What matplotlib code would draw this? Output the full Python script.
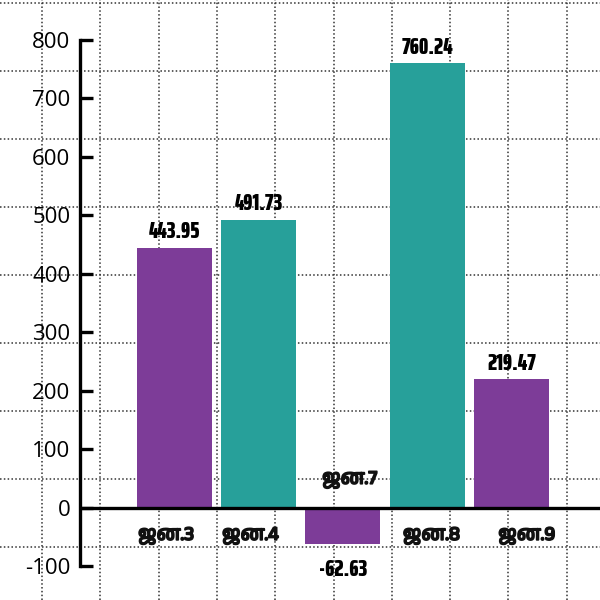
import matplotlib
matplotlib.use('Agg')
import matplotlib.pyplot as plt
import matplotlib.patheffects as pe
from matplotlib import font_manager as fm
import numpy as np

# data
days = ['ஜன.3', 'ஜன.4', 'ஜன.7', 'ஜன.8', 'ஜன.9']
values = [443.95, 491.73, -62.63, 760.24, 219.47]
colors = ['#7d3c98', '#27a09a', '#7d3c98', '#27a09a', '#7d3c98']
yticks = [-100, 0, 100, 200, 300, 400, 500, 600, 700, 800]

plt.rcParams['axes.unicode_minus'] = False

# try to find a font with tamil glyphs
tamil = sorted({f.name for f in fm.fontManager.ttflist if 'Tamil' in f.name})
label_family = tamil + ['DejaVu Sans']


def wnum(w):
    if isinstance(w, (int, float)):
        return w
    return {'bold': 700, 'heavy': 800, 'extra bold': 800, 'black': 900,
            'semibold': 600, 'demibold': 600}.get(str(w).lower(), 400)


def stretch_rank(f):
    s = str(f.stretch)
    if 'ExtraCondensed' in f.name or s in ('extra-condensed', 'ultra-condensed'):
        return 0
    if 'Condensed' in f.name or 'Narrow' in f.name or s == 'condensed':
        return 1
    if s == 'semi-condensed':
        return 2
    return 9


# condensed heavy font for the numbers
narrow = [f for f in fm.fontManager.ttflist
          if stretch_rank(f) < 9 and wnum(f.weight) >= 700 and f.style == 'normal']
narrow.sort(key=lambda f: (stretch_rank(f), -wnum(f.weight)))
if narrow:
    num_font = fm.FontProperties(fname=narrow[0].fname, size=17)
else:
    num_font = fm.FontProperties(family='DejaVu Sans', weight='bold', size=13)

fig = plt.figure(figsize=(6, 6), dpi=100)

# dotted background grid (paper-like, independent of the data axes)
bg = fig.add_axes([0, 0, 1, 1], zorder=0)
bg.set_xlim(0, 600)
bg.set_ylim(600, 0)
bg.axis('off')
for gx in np.arange(42, 600, 58.3):
    bg.axvline(gx, color='#333333', ls=(0, (1, 1.5)), lw=1.1)
for gy in np.arange(3, 600, 68):
    bg.axhline(gy, color='#333333', ls=(0, (1, 1.5)), lw=1.1)

ax = fig.add_axes([80/600, 34/600, 520/600, 526/600], zorder=1)
ax.patch.set_visible(False)

x = np.arange(len(values))
ax.bar(x, values, width=0.89, color=colors, zorder=2)
ax.axhline(0, color='black', lw=2.4, zorder=3)

ax.set_xlim(-1.12, 5.05)
ax.set_ylim(-100, 800)
ax.set_yticks(yticks)
ax.set_xticks([])
for s in ['top', 'right', 'bottom']:
    ax.spines[s].set_visible(False)
ax.spines['left'].set_linewidth(2.4)
ax.tick_params(axis='y', direction='in', length=9, width=2.4, pad=7,
               labelsize=16)
for t in ax.get_yticklabels():
    t.set_family(['Open Sans', 'DejaVu Sans'])

# value labels
for xi, v in zip(x, values):
    if v >= 0:
        ax.text(xi, v + 8, f'{v:.2f}', ha='center', va='bottom',
                fontproperties=num_font)
    else:
        ax.text(xi, v - 26, f'{v:.2f}', ha='center', va='top',
                fontproperties=num_font)

# day labels under the axis (above it for the negative bar)
heavy = [pe.withStroke(linewidth=1.2, foreground='#111111')]
offsets = [-0.1, -0.1, 0.08, 0.05, 0.18]
for xi, d, v, o in zip(x, days, values, offsets):
    yy = -48 if v >= 0 else 48
    ax.text(xi + o, yy, d, ha='center', va='center', color='#111111',
            family=label_family, weight='bold', fontsize=14,
            path_effects=heavy)

fig.savefig('out.png', dpi=100)
